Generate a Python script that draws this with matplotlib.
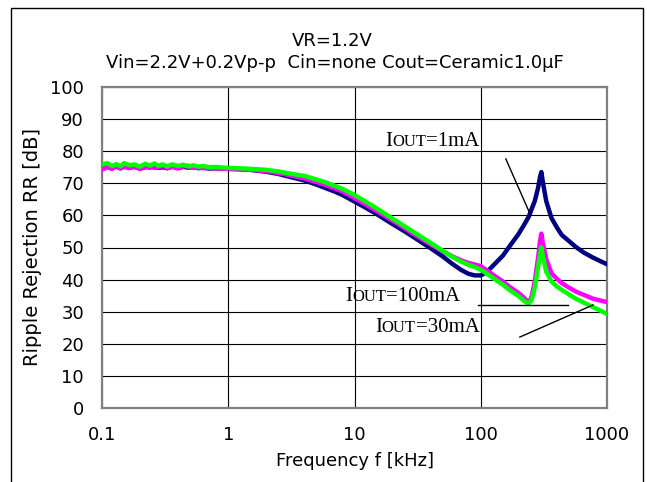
import matplotlib
matplotlib.use('Agg')
import matplotlib.pyplot as plt
from matplotlib.patches import Rectangle
from matplotlib.offsetbox import TextArea, HPacker, AnnotationBbox

# frequency in kHz
FREQ = [0.10, 0.11, 0.12, 0.13, 0.14, 0.15, 0.165, 0.18, 0.20, 0.22, 0.24, 0.26,
        0.28, 0.30, 0.33, 0.36, 0.40, 0.44, 0.48, 0.53, 0.58, 0.64, 0.70, 0.80,
        0.90, 1.0, 1.2, 1.5, 2.0, 2.5, 3.0, 4.0, 5.0, 6.0, 7.0, 8.0,
        10, 12, 15, 20, 25, 30, 40, 50, 60, 70, 80, 90,
        100, 110, 120, 150, 170, 200, 220, 240, 252, 268, 285, 295, 302,
        310, 330, 363, 400, 438, 500, 565, 650, 770, 880, 1000]

RR_1MA = [74.6, 75.3, 74.8, 75.2, 74.7, 75.4, 74.9, 75.1, 74.6, 75.3, 74.9, 75.4,
          74.8, 75.0, 74.7, 75.2, 74.8, 75.1, 74.9, 75.0, 74.7, 74.9, 74.6, 74.7,
          74.6, 74.5, 74.4, 74.2, 73.6, 72.9, 72.1, 70.9, 69.6, 68.4, 67.4, 66.4,
          64.3, 62.6, 60.4, 57.3, 55.0, 53.0, 49.8, 47.2, 44.8, 43.0, 41.8, 41.3,
          41.3, 42.2, 43.6, 47.5, 50.5, 54.3, 57.0, 59.6, 61.8, 64.5, 68.7, 72.0, 73.5,
          70.5, 64.5, 59.2, 56.3, 53.9, 52.0, 50.2, 48.5, 46.9, 45.8, 44.8]

RR_100MA = [74.3, 75.0, 74.5, 75.4, 74.6, 75.1, 74.7, 75.3, 74.5, 74.9, 75.2, 74.8,
            75.0, 75.4, 74.7, 75.1, 74.6, 75.2, 75.5, 74.8, 74.9, 74.7, 74.8, 74.6,
            74.6, 74.5, 74.4, 74.2, 73.8, 73.2, 72.6, 71.5, 70.4, 69.4, 68.4, 67.5,
            65.4, 63.6, 61.4, 58.4, 56.0, 54.0, 51.0, 48.8, 47.2, 46.0, 45.2, 44.7,
            44.2, 43.1, 42.0, 39.4, 37.7, 35.8, 34.4, 32.8, 34.5, 39.5, 47.0, 52.0, 54.3,
            51.5, 46.4, 42.0, 40.3, 38.9, 37.5, 36.3, 35.3, 34.1, 33.5, 33.0]

RR_30MA = [75.8, 76.3, 75.4, 76.0, 75.3, 76.3, 75.6, 75.9, 75.2, 76.1, 75.5, 76.2,
           75.4, 75.9, 75.3, 75.9, 75.4, 75.8, 75.2, 75.6, 75.2, 75.4, 75.0, 75.1,
           74.9, 74.8, 74.7, 74.5, 74.2, 73.7, 73.1, 72.3, 71.2, 70.2, 69.2, 68.3,
           66.4, 64.5, 62.2, 59.0, 56.6, 54.6, 51.5, 49.0, 47.0, 45.6, 44.6, 43.9,
           43.1, 42.0, 41.0, 38.4, 36.7, 34.8, 33.4, 32.5, 33.5, 37.5, 44.0, 48.0, 50.1,
           47.5, 42.5, 39.4, 37.9, 36.8, 35.4, 34.1, 32.9, 31.5, 30.4, 29.3]

XTICKS = [0.1, 1, 10, 100, 1000]
XTICK_LABELS = ['0.1', '1', '10', '100', '1000']
YTICKS = list(range(0, 101, 10))

# label texts (I + small caps OUT + rest), text anchor and leader line in data coords
LABELS = [
    ('=1mA', (98, 82.9), [(158, 248), (77.6, 60.1)]),
    ('=100mA', (68.5, 34.6), [(94.6, 487), (32.1, 32.1)]),
    ('=30mA', (98, 25.2), [(204, 775), (22.1, 32.1)]),
]

SANS = 'DejaVu Sans'
SERIF = 'Liberation Serif'

fig = plt.figure(figsize=(6.47, 4.82), dpi=100)
ax = fig.add_axes([102 / 647, 1 - 408 / 482, 505 / 647, 321 / 482])

ax.plot(FREQ, RR_1MA, color='#000080', lw=3.2, zorder=3)
ax.plot(FREQ, RR_100MA, color='#ff00ff', lw=3.2, zorder=4)
ax.plot(FREQ, RR_30MA, color='#00ff00', lw=3.2, zorder=5)

ax.set_xscale('log')
ax.set_xlim(0.1, 1000)
ax.set_ylim(0, 100)
ax.set_xticks(XTICKS)
ax.set_xticklabels(XTICK_LABELS)
ax.set_yticks(YTICKS)
ax.minorticks_off()
ax.tick_params(length=0, labelsize=13, pad=13)
for lab in ax.get_xticklabels() + ax.get_yticklabels():
    lab.set_family(SANS)
ax.grid(True, color='black', lw=0.8)
for s in ax.spines.values():
    s.set_color('#808080')
    s.set_linewidth(1.6)

ax.set_xlabel('Frequency f [kHz]', fontsize=13, family=SANS, labelpad=6)
ax.set_ylabel('Ripple Rejection RR [dB]', fontsize=14, family=SANS, labelpad=6)

fig.text(332 / 647, 1 - 46 / 482, 'VR=1.2V', ha='center', va='baseline', fontsize=13, family=SANS)
fig.text(335 / 647, 1 - 68 / 482, 'Vin=2.2V+0.2Vp-p  Cin=none Cout=Ceramic1.0\u03bcF',
         ha='center', va='baseline', fontsize=13, family=SANS)

for rest, (tx, ty), (lx, ly) in LABELS:
    parts = [TextArea('I', textprops=dict(fontsize=15, family=SERIF)),
             TextArea('OUT', textprops=dict(fontsize=12, family=SERIF)),
             TextArea(rest, textprops=dict(fontsize=15, family=SERIF))]
    box = HPacker(children=parts, align='baseline', pad=0, sep=0)
    ab = AnnotationBbox(box, (tx, ty), xycoords='data', box_alignment=(1, 0.5),
                        frameon=False, pad=0, zorder=6)
    ax.add_artist(ab)
    ax.plot(lx, ly, color='black', lw=1.0, zorder=6)

fig.patches.append(Rectangle((10.5 / 647, -0.05), 632 / 647, 1.05 - 8.5 / 482,
                             transform=fig.transFigure, fill=False, edgecolor='black', lw=1.0))

fig.savefig('out.png', dpi=100)
